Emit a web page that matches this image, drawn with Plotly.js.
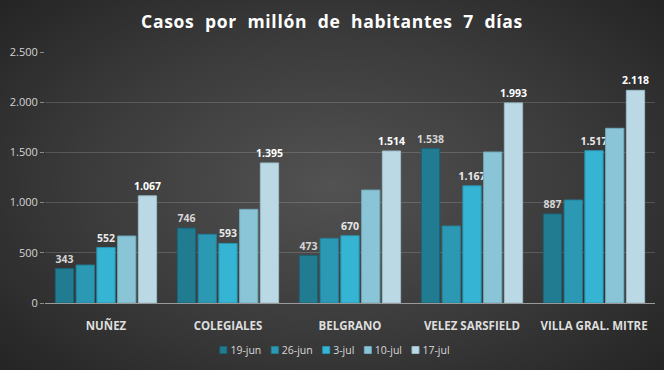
<!DOCTYPE html>
<html>
<head>
<meta charset="utf-8">
<script src="https://cdn.plot.ly/plotly-3.0.1.min.js"></script>
<style>
html,body{margin:0;padding:0;}
#chart{width:664px;height:370px;background:radial-gradient(ellipse 70% 75% at 50% 50%, #525252 0%, #3a3a3a 55%, #232323 100%);}
.gtitle{letter-spacing:0.7px;}
</style>
</head>
<body>
<div id="chart"></div>
<script>
const categories = ["NUÑEZ", "COLEGIALES", "BELGRANO", "VELEZ SARSFIELD", "VILLA GRAL. MITRE"];
const seriesNames = ["19-jun", "26-jun", "3-jul", "10-jul", "17-jul"];
const s19jun = [343, 746, 473, 1538, 887];
const s26jun = [378, 684, 644, 767, 1026];
const s3jul  = [552, 593, 670, 1167, 1517];
const s10jul = [667, 933, 1125, 1504, 1740];
const s17jul = [1067, 1395, 1514, 1993, 2118];
const seriesValues = [s19jun, s26jun, s3jul, s10jul, s17jul];
const showLabels = [true, false, true, false, true];

const colors = ["#217b91", "#2c99b4", "#35b4d4", "#8ac4d7", "#bad9e4"];
const lineColors = ["#1a6477", "#237f96", "#2a95b0", "#71a9bb", "#9bbcc8"];
const labelColors = ["#d6d6d6", "#d6d6d6", "#e8e8e8", "#ffffff", "#ffffff"];
const FONT = "Open Sans, Liberation Sans, sans-serif";

const traces = seriesNames.map((name, i) => ({
  type: "bar",
  name: name,
  x: categories,
  y: seriesValues[i],
  marker: {color: colors[i], line: {color: lineColors[i], width: 1}},
  texttemplate: showLabels[i] ? "%{y:,d}" : "",
  textposition: "outside",
  constraintext: "none",
  cliponaxis: false,
  textfont: {family: FONT, size: 10.5, color: labelColors[i], weight: "bold"},
  hoverinfo: "none"
}));

const layout = {
  width: 664, height: 370,
  paper_bgcolor: "rgba(0,0,0,0)",
  plot_bgcolor: "rgba(0,0,0,0)",
  separators: ",.",
  margin: {l: 45, r: 9, t: 52, b: 67},
  title: {
    text: "<b>Casos  por  millón  de  habitantes  7  días</b>",
    font: {family: FONT, size: 17.5, color: "#ffffff"},
    x: 0.5, xanchor: "center", y: 0.94, yanchor: "middle"
  },
  barmode: "group",
  bargap: 0.15,
  bargroupgap: 0.12,
  xaxis: {
    showgrid: false,
    showline: true, linecolor: "#9a9a9a", linewidth: 1,
    ticks: "",
    ticklabelstandoff: 12,
    automargin: false,
    tickfont: {family: FONT, size: 11.5, color: "#dedede", weight: "bold"},
    fixedrange: true
  },
  yaxis: {
    range: [0, 2500],
    dtick: 500,
    tickformat: ",d",
    showgrid: true, gridcolor: "rgba(255,255,255,0.16)", gridwidth: 1,
    zeroline: false,
    showline: false,
    ticks: "outside", ticklen: 4, tickcolor: "#8a8a8a",
    automargin: false,
    tickfont: {family: FONT, size: 11, color: "#d4d4d4"},
    fixedrange: true
  },
  legend: {
    orientation: "h",
    x: 0.475, xanchor: "center",
    yref: "container",
    y: 0.054, yanchor: "middle",
    font: {family: FONT, size: 10.5, color: "#d8d8d8"},
    itemwidth: 30,
    traceorder: "normal",
    bgcolor: "rgba(0,0,0,0)"
  },
  showlegend: true
};

Plotly.newPlot("chart", traces, layout, {displayModeBar: false, staticPlot: true}).then(gd => {
  // compact the legend entries to resemble the reference's tight legend
  const items = Array.from(gd.querySelectorAll(".legend .traces"));
  if (!items.length) return;
  const bg = gd.querySelector(".legend .bg");
  const origW = bg ? parseFloat(bg.getAttribute("width")) : 0;
  const symLeft = 16.5, textX = 27, gap = 10;
  let x = 0;
  const pos = [];
  items.forEach(g => {
    const t = g.querySelector(".legendtext");
    if (t) t.setAttribute("x", textX);
    g.querySelectorAll(".legendpoints path").forEach(p => p.setAttribute("d", "M3.5,3.5H-3.5V-3.5H3.5Z"));
    const tw = t ? t.getComputedTextLength() : 30;
    pos.push(x);
    x += (textX + tw + gap - symLeft);
  });
  const W = x - gap;
  const off = (origW - W) / 2 - symLeft;
  items.forEach((g, i) => {
    const tr = g.getAttribute("transform") || "";
    const m = tr.match(/translate\(\s*([-\d.]+)[ ,]+([-\d.]+)\s*\)/);
    const y = m ? parseFloat(m[2]) : 0;
    g.setAttribute("transform", "translate(" + (pos[i] + off) + "," + y + ")");
  });
});
</script>
</body>
</html>
